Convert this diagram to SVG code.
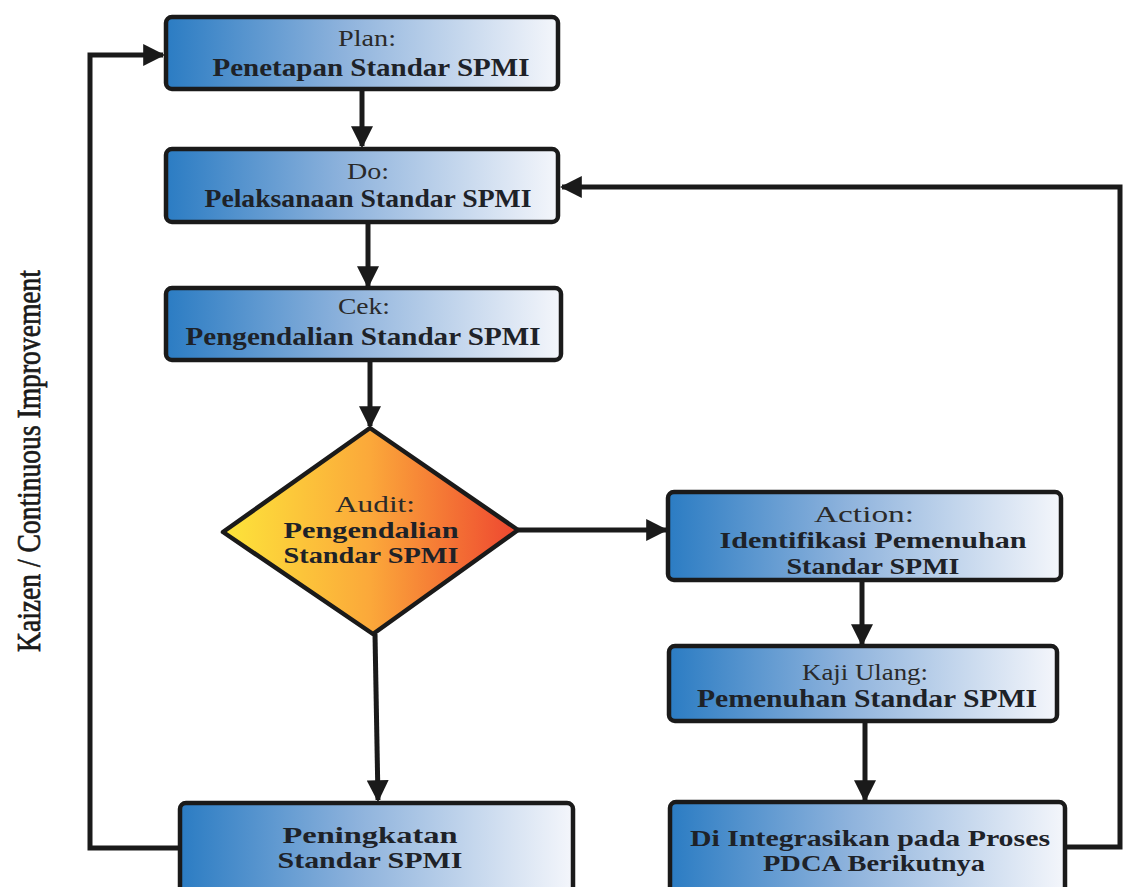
<svg xmlns="http://www.w3.org/2000/svg" width="1123" height="887" viewBox="0 0 1123 887">
<defs>
<linearGradient id="gBox" x1="0" y1="0" x2="1" y2="0">
<stop offset="0" stop-color="#2b7cc3"/>
<stop offset="0.45" stop-color="#8db2dc"/>
<stop offset="1" stop-color="#f4f6fb"/>
</linearGradient>
<linearGradient id="gDia" x1="0" y1="0" x2="1" y2="0">
<stop offset="0" stop-color="#fde53a"/>
<stop offset="0.5" stop-color="#fba83a"/>
<stop offset="1" stop-color="#ee4630"/>
</linearGradient>
<marker id="ah" viewBox="0 0 10 10" refX="9" refY="5" markerWidth="4.4" markerHeight="4.4" orient="auto" markerUnits="strokeWidth">
<path d="M0,0 L10,5 L0,10 z" fill="#1a1a1a"/>
</marker>
</defs>
<style>
.box{fill:url(#gBox);stroke:#1a1a1a;stroke-width:4.5}
.dia{fill:url(#gDia);stroke:#1a1a1a;stroke-width:4.5;stroke-linejoin:round}
.t1{font-family:"Liberation Serif",serif;font-size:24px;fill:#2a2a2a;text-anchor:middle}
.t2{font-family:"Liberation Serif",serif;font-size:25px;font-weight:bold;fill:#1e2228;text-anchor:middle}
.t3{font-family:"Liberation Serif",serif;font-size:24px;font-weight:bold;fill:#1e2228;text-anchor:middle}
.c{fill:none;stroke:#1a1a1a;stroke-width:5;stroke-linejoin:miter}
.side{font-family:"Liberation Serif",serif;font-size:34px;fill:#1a1a1a;stroke:#1a1a1a;stroke-width:0.7}
</style>

<g id="connectors">
<line class="c" x1="362" y1="90" x2="362" y2="146" marker-end="url(#ah)"/>
<line class="c" x1="368" y1="222" x2="368" y2="286" marker-end="url(#ah)"/>
<line class="c" x1="370" y1="361" x2="370" y2="426" marker-end="url(#ah)"/>
<line class="c" x1="375" y1="634" x2="378" y2="800" marker-end="url(#ah)"/>
<line class="c" x1="518" y1="530" x2="666" y2="530" marker-end="url(#ah)"/>
<line class="c" x1="862" y1="581" x2="862" y2="644" marker-end="url(#ah)"/>
<line class="c" x1="865" y1="721" x2="865" y2="800" marker-end="url(#ah)"/>
<polyline class="c" points="180,848 90,848 90,55 163,55" marker-end="url(#ah)"/>
<polyline class="c" points="1065,847 1120,847 1120,187 562,187" marker-end="url(#ah)"/>
</g>

<g id="plan">
<rect class="box" x="166" y="17" width="392" height="72" rx="6"/>
<text class="t1" x="367" y="46" textLength="58" lengthAdjust="spacingAndGlyphs">Plan:</text>
<text class="t2" x="371" y="76" textLength="317" lengthAdjust="spacingAndGlyphs">Penetapan Standar SPMI</text>
</g>

<g id="do">
<rect class="box" x="166" y="149" width="392" height="73" rx="6"/>
<text class="t1" x="368" y="179" textLength="42" lengthAdjust="spacingAndGlyphs">Do:</text>
<text class="t2" x="368" y="207" textLength="327" lengthAdjust="spacingAndGlyphs">Pelaksanaan Standar SPMI</text>
</g>

<g id="cek">
<rect class="box" x="166" y="288" width="395" height="72" rx="6"/>
<text class="t1" x="364" y="314" textLength="52" lengthAdjust="spacingAndGlyphs">Cek:</text>
<text class="t2" x="363" y="345" textLength="355" lengthAdjust="spacingAndGlyphs">Pengendalian Standar SPMI</text>
</g>

<g id="audit">
<polygon class="dia" points="370,428 518,530 373,634 223,532"/>
<text class="t1" x="375" y="512" textLength="80" lengthAdjust="spacingAndGlyphs">Audit:</text>
<text class="t3" x="371" y="538" textLength="175" lengthAdjust="spacingAndGlyphs">Pengendalian</text>
<text class="t3" x="371" y="563" textLength="175" lengthAdjust="spacingAndGlyphs">Standar SPMI</text>
</g>

<g id="action">
<rect class="box" x="668" y="492" width="393" height="88" rx="6"/>
<text class="t1" x="864" y="522" textLength="100" lengthAdjust="spacingAndGlyphs">Action:</text>
<text class="t3" x="873" y="548" textLength="307" lengthAdjust="spacingAndGlyphs">Identifikasi Pemenuhan</text>
<text class="t3" x="873" y="574" textLength="173" lengthAdjust="spacingAndGlyphs">Standar SPMI</text>
</g>

<g id="kaji">
<rect class="box" x="669" y="646" width="388" height="75" rx="6"/>
<text class="t1" x="865" y="680" textLength="126" lengthAdjust="spacingAndGlyphs">Kaji Ulang:</text>
<text class="t2" x="867" y="707" textLength="340" lengthAdjust="spacingAndGlyphs">Pemenuhan Standar SPMI</text>
</g>

<g id="peningkatan">
<rect class="box" x="180" y="803" width="393" height="100" rx="6"/>
<text class="t3" x="370" y="843" textLength="175" lengthAdjust="spacingAndGlyphs">Peningkatan</text>
<text class="t3" x="370" y="868" textLength="185" lengthAdjust="spacingAndGlyphs">Standar SPMI</text>
</g>

<g id="integrasi">
<rect class="box" x="670" y="802" width="395" height="100" rx="6"/>
<text class="t3" x="870" y="846" textLength="360" lengthAdjust="spacingAndGlyphs">Di Integrasikan pada Proses</text>
<text class="t3" x="874" y="871" textLength="222" lengthAdjust="spacingAndGlyphs">PDCA Berikutnya</text>
</g>

<g id="side-label">
<text class="side" transform="translate(40,461) rotate(-90)" text-anchor="middle" textLength="382" lengthAdjust="spacingAndGlyphs">Kaizen / Continuous Improvement</text>
</g>
</svg>
